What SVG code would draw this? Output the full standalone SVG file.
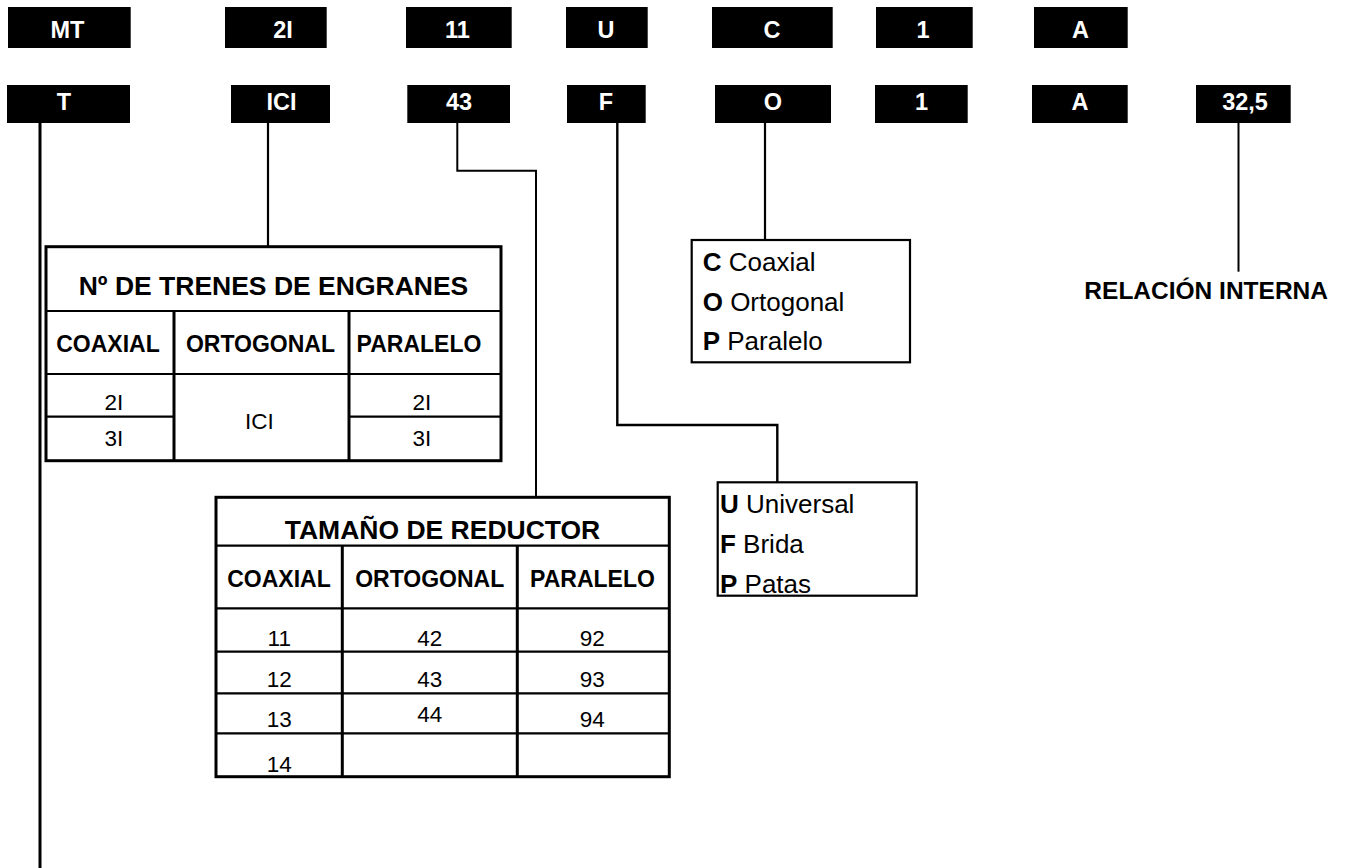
<svg xmlns="http://www.w3.org/2000/svg" width="1346" height="868" viewBox="0 0 1346 868">
<style>
  text { font-family: "Liberation Sans", Arial, sans-serif; fill: #000; }
  .code rect { fill: #000; }
  .code text { fill: #fff; font-weight: bold; font-size: 23.5px; text-anchor: middle; }
  .conn { fill: none; stroke: #000; stroke-linecap: butt; }
  .tbl { fill: #fff; stroke: #000; stroke-width: 3; }
  .vl { stroke: #000; stroke-width: 3; }
  .hl { stroke: #000; stroke-width: 2.2; }
  .ttl { font-weight: bold; font-size: 26.5px; text-anchor: middle; }
  .hdr { font-weight: bold; font-size: 23px; text-anchor: middle; }
  .dat { font-size: 22.5px; text-anchor: middle; }
  .box { fill: #fff; stroke: #000; stroke-width: 2.2; }
  .opt { font-size: 26px; }
  .opt tspan.b { font-weight: bold; }
  .lbl { font-weight: bold; font-size: 24.5px; text-anchor: end; }
</style>

<g id="connectors">
  <line class="conn" x1="40" y1="122" x2="40" y2="868" stroke-width="3"/>
  <line class="conn" x1="268" y1="122" x2="268" y2="247" stroke-width="2.2"/>
  <polyline class="conn" points="457.3,122 457.3,170.7 536,170.7 536,497" stroke-width="2"/>
  <polyline class="conn" points="617.3,122 617.3,425 777.3,425 777.3,482.3" stroke-width="2.4"/>
  <line class="conn" x1="765" y1="122" x2="765" y2="240" stroke-width="2.2"/>
  <line class="conn" x1="1238.5" y1="122" x2="1238.5" y2="271.7" stroke-width="2"/>
</g>

<g id="row1" class="code">
  <g id="c-MT"><rect x="8" y="7" width="122.7" height="41"/><text x="67.5" y="37.7">MT</text></g>
  <g id="c-2I"><rect x="225" y="7" width="101.7" height="41"/><text x="283" y="37.7">2I</text></g>
  <g id="c-11"><rect x="406" y="7" width="105.7" height="41"/><text x="457.5" y="37.7">11</text></g>
  <g id="c-U"><rect x="566" y="7" width="81.7" height="41"/><text x="606" y="37.7">U</text></g>
  <g id="c-C"><rect x="712" y="7" width="120.7" height="41"/><text x="772" y="37.7">C</text></g>
  <g id="c-1a"><rect x="876" y="7" width="96.7" height="41"/><text x="923" y="37.7">1</text></g>
  <g id="c-Aa"><rect x="1034" y="7" width="93.7" height="41"/><text x="1080.5" y="37.7">A</text></g>
</g>

<g id="row2" class="code">
  <g id="c-T"><rect x="7" y="85" width="123" height="38"/><text x="64" y="110">T</text></g>
  <g id="c-ICI"><rect x="231" y="85" width="99" height="38"/><text x="281.5" y="110">ICI</text></g>
  <g id="c-43"><rect x="407.3" y="85" width="102.7" height="38"/><text x="459" y="110">43</text></g>
  <g id="c-F"><rect x="567" y="85" width="78.7" height="38"/><text x="606" y="110">F</text></g>
  <g id="c-O"><rect x="715" y="85" width="116" height="38"/><text x="773" y="110">O</text></g>
  <g id="c-1b"><rect x="875" y="85" width="92.7" height="38"/><text x="921.5" y="110">1</text></g>
  <g id="c-Ab"><rect x="1032" y="85" width="95.7" height="38"/><text x="1080" y="110">A</text></g>
  <g id="c-325"><rect x="1196" y="85" width="94.7" height="38"/><text x="1245" y="110">32,5</text></g>
</g>

<g id="table-trenes">
  <rect class="tbl" x="46" y="246.7" width="455" height="214"/>
  <line class="hl" x1="46" y1="311" x2="501" y2="311"/>
  <line class="hl" x1="46" y1="374" x2="501" y2="374"/>
  <line class="hl" x1="46" y1="416.7" x2="174" y2="416.7"/>
  <line class="hl" x1="349" y1="416.7" x2="501" y2="416.7"/>
  <line class="vl" x1="174" y1="311" x2="174" y2="460.7"/>
  <line class="vl" x1="349" y1="311" x2="349" y2="460.7"/>
  <text class="ttl" x="273.5" y="295">Nº DE TRENES DE ENGRANES</text>
  <text class="hdr" x="108" y="351.7">COAXIAL</text>
  <text class="hdr" x="260.5" y="351.7">ORTOGONAL</text>
  <text class="hdr" x="419" y="351.7">PARALELO</text>
  <text class="dat" x="114" y="410">2I</text>
  <text class="dat" x="114" y="446">3I</text>
  <text class="dat" x="259.5" y="429">ICI</text>
  <text class="dat" x="422" y="410">2I</text>
  <text class="dat" x="422" y="446">3I</text>
</g>

<g id="table-tamano">
  <rect class="tbl" x="216" y="497.3" width="453.3" height="279.4"/>
  <line class="hl" x1="216" y1="545.7" x2="669.3" y2="545.7"/>
  <line class="hl" x1="216" y1="608.3" x2="669.3" y2="608.3"/>
  <line class="hl" x1="216" y1="651.7" x2="669.3" y2="651.7"/>
  <line class="hl" x1="216" y1="693.3" x2="669.3" y2="693.3"/>
  <line class="hl" x1="216" y1="733.3" x2="669.3" y2="733.3"/>
  <line class="vl" x1="342.3" y1="545.7" x2="342.3" y2="776.7"/>
  <line class="vl" x1="517.3" y1="545.7" x2="517.3" y2="776.7"/>
  <text class="ttl" x="442.5" y="539">TAMAÑO DE REDUCTOR</text>
  <text class="hdr" x="279" y="587.3">COAXIAL</text>
  <text class="hdr" x="429.7" y="587.3">ORTOGONAL</text>
  <text class="hdr" x="592.5" y="587.3">PARALELO</text>
  <text class="dat" x="279.3" y="645.7">11</text>
  <text class="dat" x="429.7" y="645.7">42</text>
  <text class="dat" x="592.3" y="645.7">92</text>
  <text class="dat" x="279.3" y="686.7">12</text>
  <text class="dat" x="429.7" y="686.7">43</text>
  <text class="dat" x="592.3" y="686.7">93</text>
  <text class="dat" x="279.3" y="726.7">13</text>
  <text class="dat" x="429.7" y="721.7">44</text>
  <text class="dat" x="592.3" y="726.7">94</text>
  <text class="dat" x="279.3" y="771.7">14</text>
</g>

<g id="box-orientacion">
  <rect class="box" x="691.7" y="240" width="218.3" height="122.3"/>
  <text class="opt" x="702.7" y="270.7"><tspan class="b">C</tspan> Coaxial</text>
  <text class="opt" x="702.7" y="311"><tspan class="b">O</tspan> Ortogonal</text>
  <text class="opt" x="702.7" y="350"><tspan class="b">P</tspan> Paralelo</text>
</g>

<g id="box-montaje">
  <rect class="box" x="717.7" y="482.3" width="199" height="113.4"/>
  <text class="opt" x="720" y="512.7"><tspan class="b">U</tspan> Universal</text>
  <text class="opt" x="720" y="553.3"><tspan class="b">F</tspan> Brida</text>
  <text class="opt" x="720" y="592.7"><tspan class="b">P</tspan> Patas</text>
</g>

<g id="relacion">
  <text class="lbl" x="1328" y="299.3">RELACIÓN INTERNA</text>
</g>
</svg>
